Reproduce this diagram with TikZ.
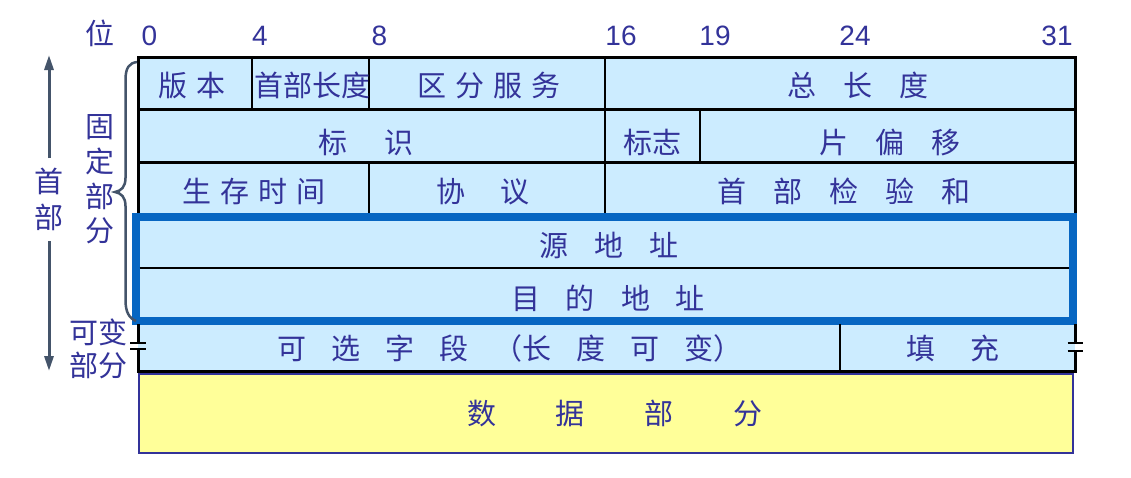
\documentclass[tikz,border=0pt]{standalone}
\usepackage{fontspec}
\setmainfont{Liberation Sans}
\newfontfamily\cjk{Noto Sans CJK SC}
\usetikzlibrary{arrows.meta}
\newcommand\gp[1]{\hspace{#1pt}}
\definecolor{navy}{HTML}{333399}
\definecolor{cellblue}{HTML}{CCECFF}
\definecolor{bandblue}{HTML}{0766C2}
\definecolor{pale}{HTML}{FFFF99}
\definecolor{slate}{HTML}{44546A}
\begin{document}
\begin{tikzpicture}[x=1pt,y=-1pt,
  lbl/.style={text=navy,font=\cjk\fontsize{29}{32}\selectfont,inner sep=0pt,anchor=base,yshift=-11pt},
  num/.style={text=navy,font=\fontsize{28}{30}\selectfont,inner sep=0pt,anchor=base},
  rule/.style={black,line width=3pt},
  thinrule/.style={black,line width=2.5pt},
  brk/.style={black,line width=2.6pt},
  arr/.style={slate,line width=3pt,-{Triangle[length=15pt,width=9pt]}},
]
\useasboundingbox (0,0) rectangle (1131,477);
\fill[white] (0,0) rectangle (1131,477);
% cell background
\fill[cellblue] (138,57) rectangle (1075,371);
% fixed-part grid
\draw[rule] (138.5,216) -- (138.5,57) -- (1075,57) -- (1075,216);
\draw[rule] (138,109.3) -- (1075,109.3);
\draw[rule] (138,162.7) -- (1075,162.7);
\draw[thinrule] (252,57) -- (252,109);
\draw[thinrule] (369,57) -- (369,109);
\draw[thinrule] (369,163) -- (369,214);
\draw[thinrule] (605,57) -- (605,214);
\draw[thinrule] (700,109) -- (700,163);
% address band
\draw[bandblue,line width=8pt] (135.5,217) rectangle (1072.5,320.5);
\draw[black,line width=2.5pt] (139.5,268) -- (1068.5,268);
% optional row
\draw[rule] (138.5,324) -- (138.5,342);
\draw[rule] (138.5,349) -- (138.5,371);
\draw[brk] (130,342.8) -- (146,342.8);
\draw[brk] (130,348.8) -- (146,348.8);
\draw[rule] (1075.3,324) -- (1075.3,342.5);
\draw[rule] (1075.3,350.5) -- (1075.3,371);
\draw[brk] (1067.5,343) -- (1083,343);
\draw[brk] (1067.5,350.8) -- (1083,350.8);
\draw[rule] (137,371) -- (1076.8,371);
\draw[thinrule] (840,324) -- (840,371);
% data box
\draw[navy,fill=pale,line width=2pt] (139,374) rectangle (1073,453.3);
% brace
\draw[slate,line width=2.5pt] (137,62) .. controls (129,63) and (125.5,68) .. (125.5,80) -- (125.5,178) .. controls (125.5,187) and (121,191) .. (115,192) .. controls (121,193) and (125.5,197) .. (125.5,206) -- (125.5,300) .. controls (125.5,312) and (129,318) .. (136,321);
% arrows
\coordinate (upfrom) at (49,158);
\coordinate (upto) at (49,55);
\coordinate (dnfrom) at (49,241);
\coordinate (dnto) at (49,371);
\draw[arr] (upfrom) -- (upto);
\draw[arr] (dnfrom) -- (dnto);
% bit positions
\node[lbl] (wei) at (100,33) {位};
\node[num] (b0) at (149.5,45) {0};
\node[num] (b4) at (260,45) {4};
\node[num] (b8) at (379.5,45) {8};
\node[num] (b16) at (621,45) {16};
\node[num] (b19) at (715,45) {19};
\node[num] (b24) at (855,45) {24};
\node[num] (b31) at (1057,45) {31};
% left labels
\node[lbl] (hd1) at (48.5,181) {首};
\node[lbl] (hd2) at (48.5,217) {部};
\node[lbl] (fx1) at (100,126) {固};
\node[lbl] (fx2) at (100,161) {定};
\node[lbl] (fx3) at (100,196) {部};
\node[lbl] (fx4) at (100,230) {分};
\node[lbl] (vr1) at (98.5,332.5) {可变};
\node[lbl] (vr2) at (98.5,365) {部分};
% field labels
\node[lbl] (ver) at (192,85) {版\gp{9}本};
\node[lbl] (ihl) at (312,85) {首部长度};
\node[lbl] (tos) at (489,85) {区\gp{9}分\gp{9}服\gp{9}务};
\node[lbl] (tlen) at (858,85) {总\gp{27}长\gp{27}度};
\node[lbl] (ident) at (366,142) {标\gp{38}识};
\node[lbl] (flag) at (652,142) {标志};
\node[lbl] (frag) at (890,142) {片\gp{27}偏\gp{27}移};
\node[lbl] (ttl) at (254,191) {生\gp{9}存\gp{9}时\gp{9}间};
\node[lbl] (proto) at (483,191) {协\gp{35}议};
\node[lbl] (csum) at (844,191) {首\gp{27}部\gp{27}检\gp{27}验\gp{27}和};
\node[lbl] (src) at (609,245) {源\gp{26}地\gp{26}址};
\node[lbl] (dst) at (608,298) {目\gp{26}的\gp{26}地\gp{26}址};
\node[lbl] (opt) at (510,348) {可\gp{25}选\gp{25}字\gp{25}段\gp{25}（长\gp{25}度\gp{25}可\gp{25}变）};
\node[lbl] (pad) at (953,348) {填\gp{35}充};
\node[lbl] (data) at (615,413) {数\gp{60}据\gp{60}部\gp{60}分};
\end{tikzpicture}
\end{document}
